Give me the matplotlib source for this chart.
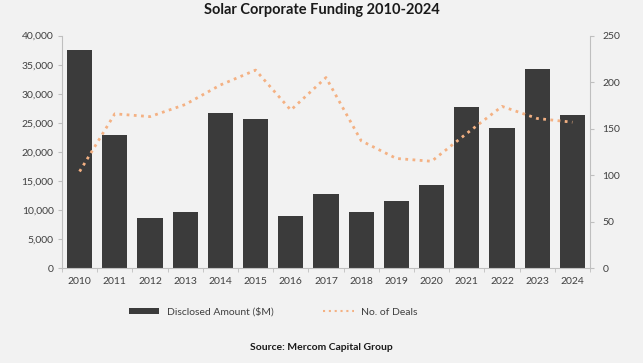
import matplotlib
matplotlib.use("Agg")
import matplotlib.pyplot as plt
import numpy as np
from matplotlib.lines import Line2D
from matplotlib.patches import Patch

years = ["2010", "2011", "2012", "2013", "2014", "2015", "2016", "2017",
         "2018", "2019", "2020", "2021", "2022", "2023", "2024"]
amount = [37600, 23000, 8600, 9700, 26700, 25600, 9000, 12700,
          9600, 11600, 14400, 27800, 24100, 34300, 26300]
deals = [104, 166, 163, 176, 197, 213, 170, 205, 137, 118, 115, 145, 174, 161, 157]

plt.rcParams['font.family'] = ['Lato', 'DejaVu Sans']
BG = "#f2f2f2"
BAR = "#3b3b3b"
LINE = "#f4b183"
AXC = "#bfbfbf"
TXT = "#404040"
DOTS = (0, (1, 1.6))

fig = plt.figure(figsize=(6.43, 3.63), dpi=100, facecolor=BG)
ax = fig.add_axes([0.0964, 0.261, 0.8212, 0.6407], facecolor=BG)
x = np.arange(len(years))
ax.bar(x, amount, width=0.72, color=BAR, zorder=2)
ax.set_xlim(-0.5, len(years) - 0.5)
ax.set_ylim(0, 40000)
ax.set_yticks(np.arange(0, 40001, 5000))
ax.set_yticklabels([f"{v:,}" for v in range(0, 40001, 5000)])
ax.set_xticks(x)
ax.set_xticklabels(years)
ax.set_xticks(np.arange(-0.5, len(years), 1), minor=True)
ax.tick_params(axis='x', which='major', length=0, pad=6, labelsize=7.5, labelcolor=TXT)
ax.tick_params(axis='x', which='minor', length=3, color=AXC, direction='out')
ax.tick_params(axis='y', length=3, color=AXC, labelsize=7.5, labelcolor=TXT, pad=3)
for s in ['top', 'right']:
    ax.spines[s].set_visible(False)
for s in ['left', 'bottom']:
    ax.spines[s].set_color(AXC)
    ax.spines[s].set_linewidth(0.8)

ax2 = ax.twinx()
ax2.plot(x, deals, color=LINE, linestyle=DOTS, linewidth=2.0, zorder=3)
ax2.set_ylim(0, 250)
ax2.set_yticks(np.arange(0, 251, 50))
ax2.tick_params(axis='y', length=3, color=AXC, labelsize=7.5, labelcolor=TXT, pad=6)
for s in ['top', 'left', 'bottom']:
    ax2.spines[s].set_visible(False)
ax2.spines['right'].set_color(AXC)
ax2.spines['right'].set_linewidth(0.8)

fig.text(0.5, 0.972, "Solar Corporate Funding 2010-2024", ha='center', va='center',
         fontsize=10.5, fontweight='bold', color="#1a1a1a")

handles = [Patch(facecolor=BAR, edgecolor='none', label="Disclosed Amount ($M)"),
           Line2D([0], [0], color=LINE, linestyle=(0, (1, 1.8)), linewidth=1.5, label="No. of Deals")]
fig.legend(handles=handles, loc='center', bbox_to_anchor=(0.425, 0.14), ncol=2,
           frameon=False, fontsize=7.5, labelcolor=TXT, handlelength=2.9,
           handleheight=0.55, columnspacing=4.8, handletextpad=0.7)

fig.text(0.5, 0.043, "Source: Mercom Capital Group", ha='center', va='center',
         fontsize=7.5, fontweight='bold', color="#1a1a1a")

fig.savefig("out.png", dpi=100, facecolor=BG)
